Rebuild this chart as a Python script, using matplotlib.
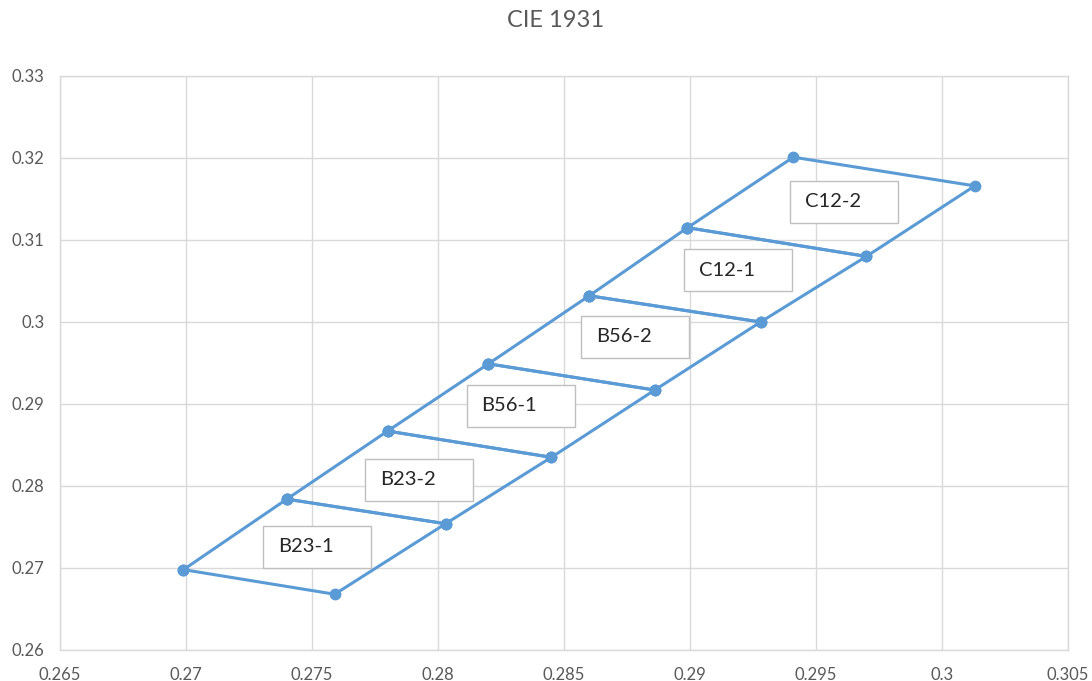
import numpy as np
import matplotlib
matplotlib.use('Agg')
import matplotlib.pyplot as plt
from matplotlib.patches import Rectangle

plt.rcParams['font.family'] = ['Lato', 'DejaVu Sans']

# bin corner points, left edge and right edge (CIE 1931 x, y)
left_x = [0.2699, 0.2740, 0.2780, 0.2820, 0.2860, 0.2899, 0.2941]
left_y = [0.2698, 0.2784, 0.2867, 0.2949, 0.3032, 0.3115, 0.3201]
right_x = [0.2759, 0.2803, 0.2845, 0.2886, 0.2928, 0.2970, 0.3013]
right_y = [0.2668, 0.2754, 0.2835, 0.2917, 0.3000, 0.3080, 0.3166]
bins = ['B23-1', 'B23-2', 'B56-1', 'B56-2', 'C12-1', 'C12-2']

# label box nudge from quad centre, in pixels (right, up)
nudge = [(4, 0), (1, -2), (0, 5), (12, 6), (12, 5), (14, 5)]

blue = '#5b9bd5'
grid = '#d9d9d9'
txt = '#595959'

fig = plt.figure(figsize=(10.92, 6.81), dpi=100)
ax = fig.add_axes([60/1092, 31/681, 1008/1092, 574/681])

ax.set_xlim(0.265, 0.305)
ax.set_ylim(0.26, 0.33)
ax.set_xticks(np.arange(0.265, 0.3051, 0.005))
ax.set_yticks(np.arange(0.26, 0.3301, 0.01))
ax.set_xticklabels(['0.265', '0.27', '0.275', '0.28', '0.285', '0.29', '0.295', '0.3', '0.305'])
ax.set_yticklabels(['0.26', '0.27', '0.28', '0.29', '0.3', '0.31', '0.32', '0.33'])
ax.grid(True, color=grid, lw=1)
ax.set_axisbelow(True)
for s in ax.spines.values():
    s.set_color(grid)
    s.set_linewidth(1)
ax.tick_params(length=0, labelsize=12, labelcolor=txt)
ax.tick_params(axis='x', pad=12)
ax.tick_params(axis='y', pad=11)

px = 0.04 / 1008
py = 0.07 / 574

# each bin drawn as its own closed quadrilateral
for i, name in enumerate(bins):
    qx = [left_x[i], left_x[i+1], right_x[i+1], right_x[i], left_x[i]]
    qy = [left_y[i], left_y[i+1], right_y[i+1], right_y[i], left_y[i]]
    ax.plot(qx, qy, color=blue, lw=2.2, marker='o', ms=7.5, zorder=3)

    cx = np.mean(qx[:4]) + nudge[i][0]*px
    cy = np.mean(qy[:4]) + nudge[i][1]*py
    ax.add_patch(Rectangle((cx - 54*px, cy - 21*py), 108*px, 42*py,
                           facecolor='white', edgecolor='#bfbfbf', lw=1, zorder=4))
    ax.text(cx - 39*px, cy, name, ha='left', va='center', fontsize=14.5,
            color='#262626', zorder=5)

fig.text(0.509, 0.97, 'CIE 1931', ha='center', va='center', fontsize=17, color=txt)

fig.savefig('out.png', dpi=100)
